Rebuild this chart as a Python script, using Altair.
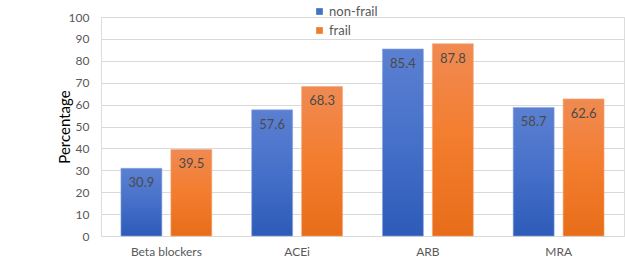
import altair as alt
import pandas as pd

categories = ["Beta blockers", "ACEi", "ARB", "MRA"]
groups = ["non-frail", "frail"]
non_frail = [30.9, 57.6, 85.4, 58.7]
frail = [39.5, 68.3, 87.8, 62.6]
y_ticks = [0, 10, 20, 30, 40, 50, 60, 70, 80, 90, 100]

rows = []
for c, a, b in zip(categories, non_frail, frail):
    rows.append({"drug": c, "group": "non-frail", "value": a})
    rows.append({"drug": c, "group": "frail", "value": b})
df = pd.DataFrame(rows)

FONT = "Lato"
blue_grad = alt.Gradient(
    gradient="linear", x1=0, x2=0, y1=0, y2=1,
    stops=[alt.GradientStop(color="#5b80d1", offset=0),
           alt.GradientStop(color="#4670c9", offset=0.5),
           alt.GradientStop(color="#2d5bb8", offset=1)],
)
orange_grad = alt.Gradient(
    gradient="linear", x1=0, x2=0, y1=0, y2=1,
    stops=[alt.GradientStop(color="#f08a52", offset=0),
           alt.GradientStop(color="#f37d2e", offset=0.5),
           alt.GradientStop(color="#e76d19", offset=1)],
)

x_enc = alt.X("drug:N", sort=categories, title=None,
              scale=alt.Scale(paddingInner=0.305, paddingOuter=0.1525),
              axis=alt.Axis(labelAngle=0, domain=False, ticks=False, labelPadding=10,
                            labelFont=FONT, labelFontSize=12, labelColor="#595959"))
y_enc = alt.Y("value:Q", title="Percentage",
              scale=alt.Scale(domain=[0, 100], nice=False),
              axis=alt.Axis(values=y_ticks, domain=False, ticks=False, labelPadding=12,
                            labelOverlap=False,
                            labelFont=FONT, labelFontSize=12, labelColor="#595959",
                            gridColor="#d9d9d9", gridWidth=1,
                            titleFont=FONT, titleFontSize=15, titleFontWeight="normal",
                            titleColor="#000000", titlePadding=-4))
xoff = alt.XOffset("group:N", sort=groups,
                   scale=alt.Scale(domain=groups, paddingInner=0.18, paddingOuter=0))

base = alt.Chart(df).encode(x=x_enc, xOffset=xoff, y=y_enc)

bars_nf = base.transform_filter(alt.datum.group == "non-frail").mark_bar(
    fill=blue_grad, stroke="#8aa4e0", strokeWidth=0.6
)
bars_f = base.transform_filter(alt.datum.group == "frail").mark_bar(
    fill=orange_grad, stroke="#f5a878", strokeWidth=0.6
)

labels = base.mark_text(font=FONT, fontSize=13, color="#4a4a4a", baseline="middle", dy=15).encode(
    text=alt.Text("value:Q", format=".1f")
)

legend_layer = base.mark_square(size=0, opacity=0).encode(
    color=alt.Color("group:N", sort=groups,
                    scale=alt.Scale(domain=groups, range=["#4472c4", "#ed7d31"]),
                    legend=alt.Legend(title=None, orient="none", legendX=212, legendY=-12,
                                      symbolType="square", symbolSize=45, symbolOpacity=1,
                                      symbolStrokeWidth=0, rowPadding=5,
                                      labelFont=FONT, labelFontSize=13, labelColor="#595959",
                                      labelOffset=3)),
)

chart = alt.layer(bars_nf, bars_f, labels, legend_layer).properties(
    width=523, height=219,
    autosize=alt.AutoSizeParams(type="none"),
    padding={"left": 101, "top": 17, "right": 1, "bottom": 32},
).configure_view(stroke=None).configure(background="white")

chart.save("out.html", embed_options={"renderer": "svg", "actions": False})
